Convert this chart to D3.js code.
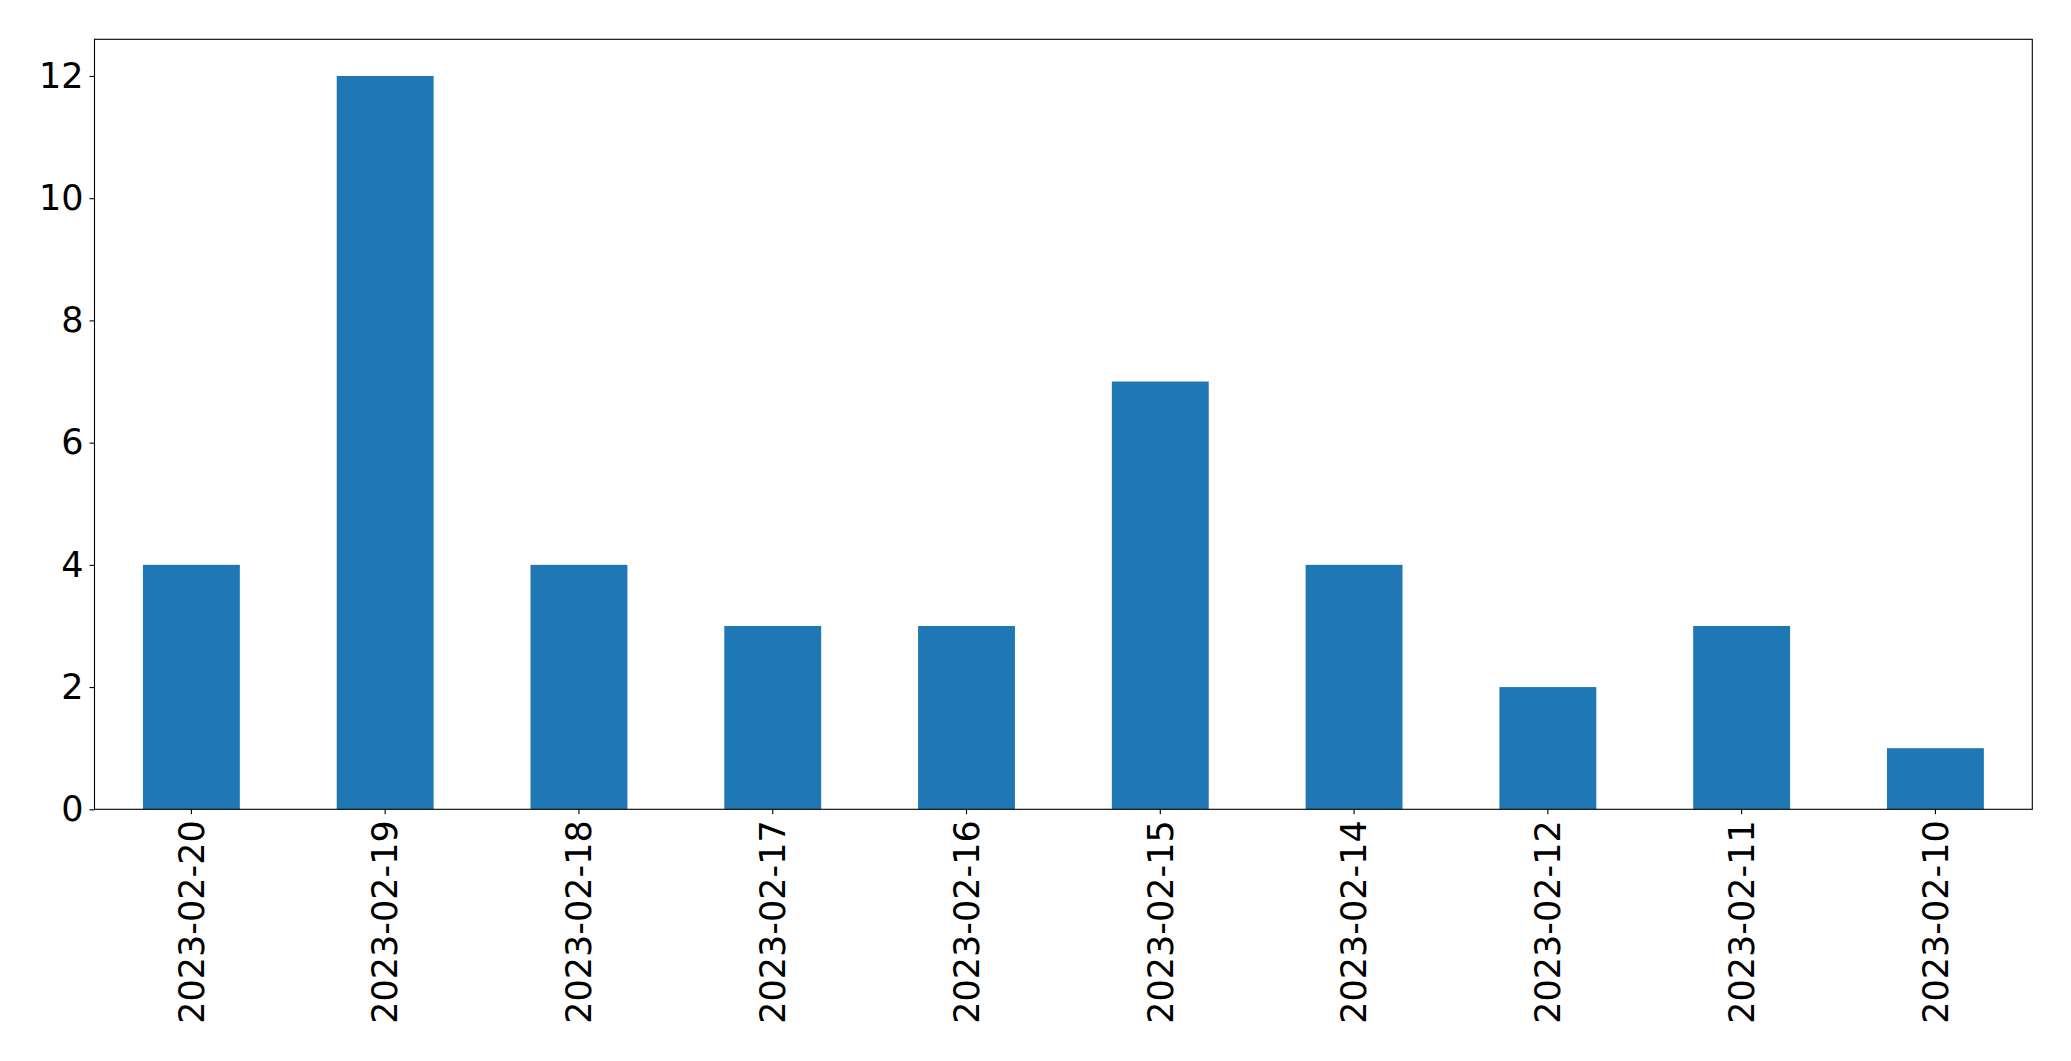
<!DOCTYPE html>
<html><head><meta charset="utf-8">
<script src="https://cdn.jsdelivr.net/npm/d3@7"></script>
<style>
html,body{margin:0;padding:0;background:#fff;}
svg{display:block;}
text{font-family:"DejaVu Sans",sans-serif;}
</style></head>
<body>
<script>
const categories = ["2023-02-20","2023-02-19","2023-02-18","2023-02-17","2023-02-16","2023-02-15","2023-02-14","2023-02-12","2023-02-11","2023-02-10"];
const values = [4,12,4,3,3,7,4,2,3,1];
const yTicks = [0,2,4,6,8,10,12];

const W = 2071, H = 1061;
const m = {left:94.5, right:2071-2032.3, top:39.3, bottom:1061-809.3};
const iw = W - m.left - m.right, ih = H - m.top - m.bottom;
const fs = 35;

const svg = d3.select("body").append("svg").attr("width",W).attr("height",H);
const g = svg.append("g").attr("transform",`translate(${m.left},${m.top})`);

const x = d3.scaleBand().domain(categories).range([0,iw]).paddingInner(0.5).paddingOuter(0.25);
const y = d3.scaleLinear().domain([0,12.6]).range([ih,0]);

g.selectAll("rect.bar").data(values).join("rect")
  .attr("class","bar")
  .attr("x",(d,i)=>x(categories[i]))
  .attr("width",x.bandwidth())
  .attr("y",d=>y(d))
  .attr("height",d=>y(0)-y(d))
  .attr("fill","#1f77b4");

const ya = g.append("g").call(d3.axisLeft(y).tickValues(yTicks).tickSize(5).tickPadding(6).tickFormat(d3.format("d")));
ya.select(".domain").remove();
ya.selectAll("text").attr("font-size",fs).attr("font-family","DejaVu Sans").attr("fill","#000");
ya.selectAll("line").attr("stroke","#000").attr("stroke-width",1.1);

const xa = g.append("g").attr("transform",`translate(0,${ih})`)
  .call(d3.axisBottom(x).tickSize(5).tickPadding(6));
xa.select(".domain").remove();
xa.selectAll("line").attr("stroke","#000").attr("stroke-width",1.1);
xa.selectAll("text")
  .attr("font-size",fs).attr("font-family","DejaVu Sans").attr("fill","#000")
  .attr("text-anchor","end")
  .attr("transform","rotate(-90)")
  .attr("x",-11).attr("y",0).attr("dy","0.35em");

g.append("rect").attr("x",0).attr("y",0).attr("width",iw).attr("height",ih)
  .attr("fill","none").attr("stroke","#000").attr("stroke-width",1.1);
</script>
</body></html>
